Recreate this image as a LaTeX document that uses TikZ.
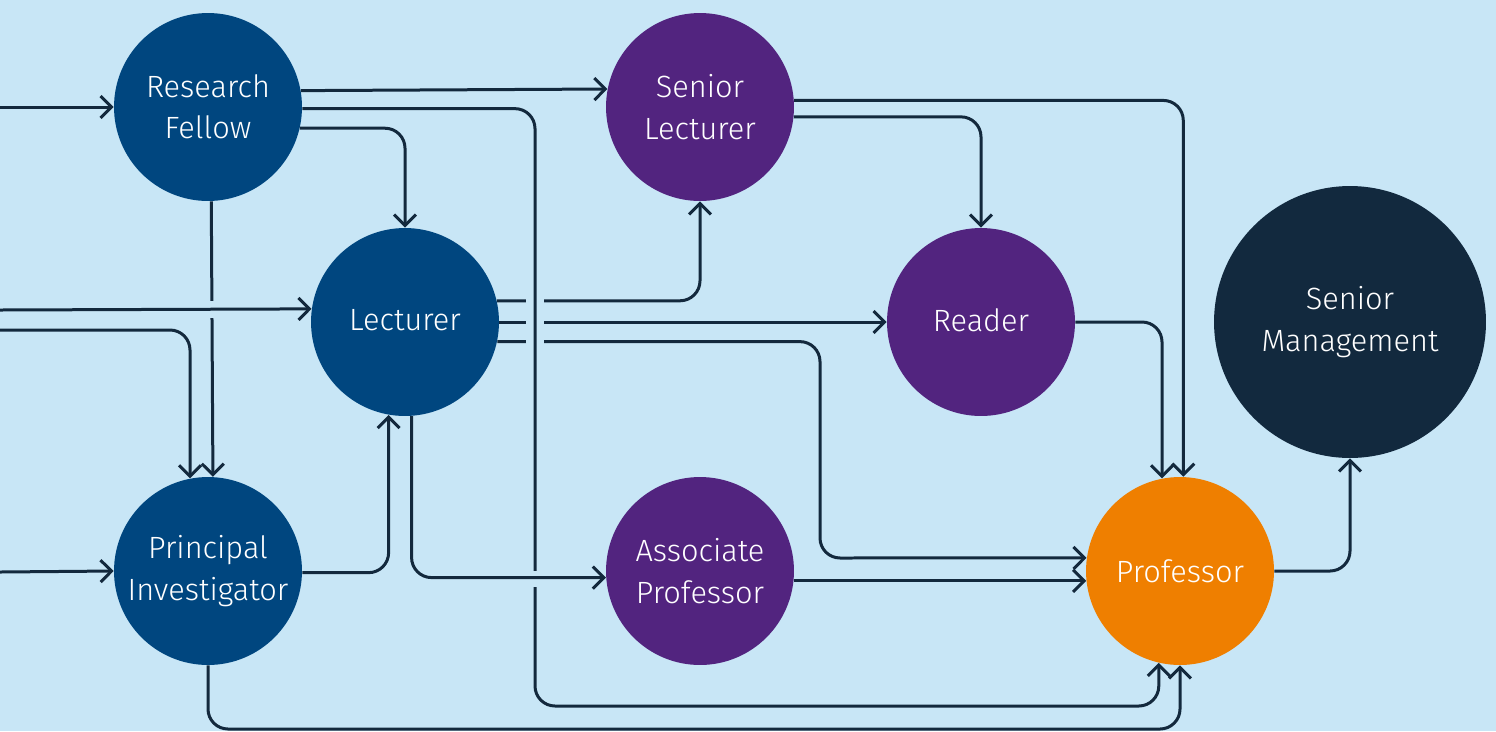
\documentclass[tikz,border=0pt]{standalone}
\usepackage{fontspec}
\setmainfont{Fira Sans Light}
\usetikzlibrary{arrows.meta,calc}
\definecolor{bgc}{HTML}{C8E6F6}
\definecolor{dblue}{HTML}{00467F}
\definecolor{purp}{HTML}{52247F}
\definecolor{navy}{HTML}{12293E}
\definecolor{orng}{HTML}{EF7F00}
\definecolor{linec}{HTML}{13293D}
\begin{document}
\begin{tikzpicture}[x=0.02cm,y=-0.02cm,
  role/.style={circle,minimum size=3.76cm,inner sep=0pt,text=white,align=center,font=\fontsize{17.5}{23.5}\selectfont},
  conn/.style={draw=linec,line width=0.06cm,rounded corners=0.4cm,-{Straight Barb[length=0.22cm,width=0.44cm]}},
  gapc/.style={draw=bgc,line width=0.14cm}]
\fill[bgc] (0,0) rectangle (1496,731);
\useasboundingbox (0,0) rectangle (1496,731);
% nodes
\node[role,fill=dblue] (rf) at (208,107) {Research\\Fellow};
\node[role,fill=purp] (sl) at (700,107) {Senior\\Lecturer};
\node[role,fill=dblue] (l) at (405,322) {\raisebox{2pt}{Lecturer}};
\node[role,fill=purp] (rd) at (981,322) {\raisebox{2pt}{Reader}};
\node[role,fill=navy,minimum size=5.44cm] (sm) at (1350,322) {Senior\\Management};
\node[role,fill=dblue] (pi) at (208,571) {Principal\\Investigator};
\node[role,fill=purp] (ap) at (700,571) {Associate\\Professor};
\node[role,fill=orng] (p) at (1180,571) {Professor};
% free ends and bends
\coordinate (in1) at (0,107);
\coordinate (in2) at (0,310);
\coordinate (in3) at (0,330);
\coordinate (in4) at (0,572);
\coordinate (c7) at (535,706);
\coordinate (c13) at (820,558);
\coordinate (c19) at (1180,729);
% under lines
\draw[conn] (l.13.5) -| (sl.south);
\draw[conn] (l) -- (rd);
\draw[conn] (l.-12.3) -| (c13) -- (p.172.05);
\draw[conn] (rf.272.4) -- (pi.87.6);
% gaps
\draw[gapc] (526,300) -- (544,300);
\draw[gapc] (526,322) -- (544,322);
\draw[gapc] (526,342) -- (544,342);
\draw[gapc] (212,301) -- (212,318);
% over lines
\draw[conn] (rf.-1.2) -| (c7) -| (p.257.7);
\draw[conn] (in2) -- (l.172.7);
\draw[gapc] (535,571) -- (535,587);
\draw[conn] (l.274.3) |- (ap.184.3);
% other lines
\draw[conn] (in1) -- (rf);
\draw[conn] (in3) -| (pi.101);
\draw[conn] (in4) -- (pi.180.6);
\draw[conn] (rf.10.4) -- (sl.169.6);
\draw[conn] (rf.-13.5) -| (l.north);
\draw[conn] (sl.4.3) -| (p.88.2);
\draw[conn] (sl.-6.7) -| (rd.north);
\draw[conn] (rd.east) -| (p.101);
\draw[conn] (ap.-6.7) -- (p.186.7);
\draw[conn] (p.east) -| (sm.south);
\draw[conn] (pi.-1.2) -| (l.260.8);
\draw[conn] (pi.south) |- (c19) -- (p.south);
\end{tikzpicture}
\end{document}
